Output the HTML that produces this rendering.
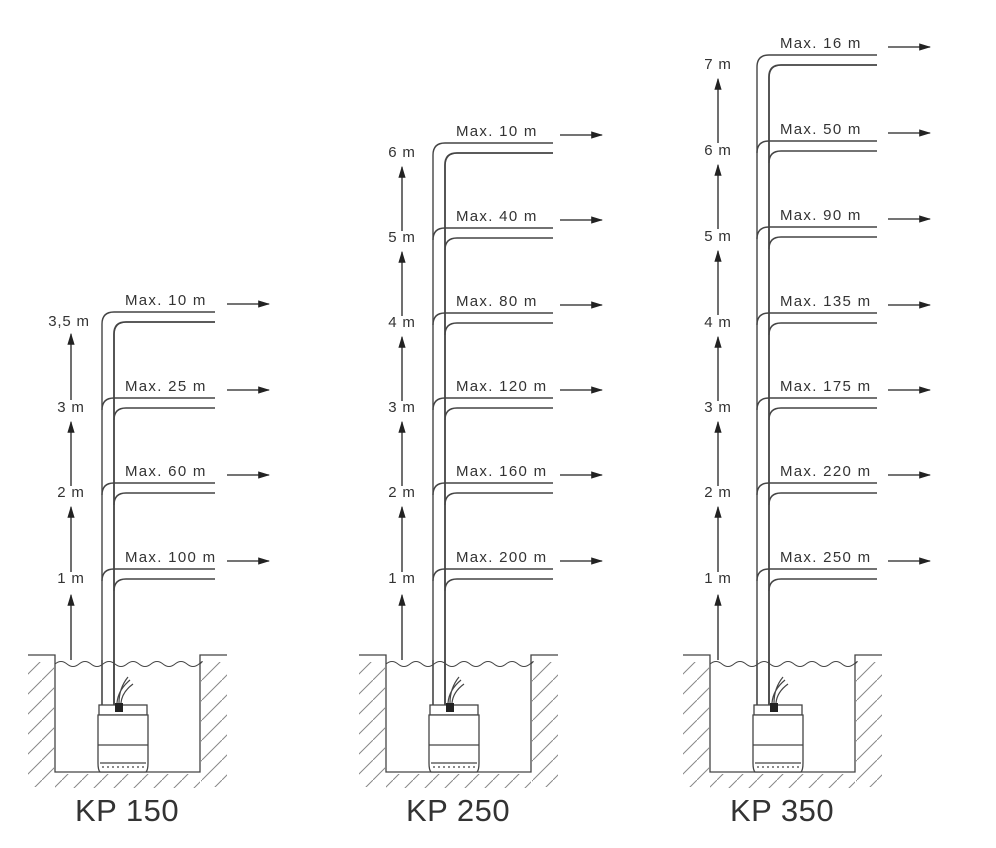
<!DOCTYPE html>
<html><head><meta charset="utf-8"><style>
html,body{margin:0;padding:0;background:#fff;}
svg{display:block}
text{font-family:"Liberation Sans",sans-serif;fill:#333;}
</style></head><body>
<svg width="996" height="848" viewBox="0 0 996 848" xmlns="http://www.w3.org/2000/svg">
<defs>
<pattern id="h" patternUnits="userSpaceOnUse" width="20" height="20">
<line x1="0" y1="20" x2="20" y2="0" stroke="#888" stroke-width="1"/>
</pattern>
<marker id="a" viewBox="0 0 10 10" refX="9" refY="5" markerWidth="12" markerHeight="9" orient="auto" markerUnits="userSpaceOnUse" preserveAspectRatio="none">
<path d="M0,1 L10,5 L0,9 Z" fill="#222"/>
</marker>
<g id="pit" fill="none" stroke="#444" stroke-width="1.3">
<rect x="-74" y="662" width="26" height="125" fill="url(#h)" stroke="none"/>
<rect x="-47" y="774" width="145" height="14" fill="url(#h)" stroke="none"/>
<rect x="99" y="662" width="26" height="125" fill="url(#h)" stroke="none"/>
<path d="M-74,655 H-47 V772 H98 V655 H125"/>
<path d="M-47,664 q6,-5 12,0 t12,0 t12,0 t12,0 t12,0 t12,0 t12,0 t12,0 t12,0 t12,0 t12,0 t12,0 t1,0" stroke-width="1"/>
<rect x="-3" y="705" width="48" height="10" fill="#fff"/>
<path d="M-4,715 H46 V763 Q46,770 44,772 H-2 Q-4,770 -4,763 Z" fill="#fff"/>
<line x1="-4" y1="745" x2="46" y2="745"/>
<line x1="-2" y1="763" x2="44" y2="763"/>
<path d="M0,767 H44" stroke-dasharray="2,3"/>
<rect x="13" y="703" width="8" height="9" fill="#222" stroke="none"/>
<path d="M15,703 Q16,690 28,680 M19,703 Q20,692 31,684 M17,703 Q17,688 26,677" stroke-width="1.2"/>
<path d="M0,705 V660 M12,705 V660" stroke="#444"/>
</g>
</defs>

<!-- KP 150 -->
<g transform="translate(102,0)" stroke="#444" fill="none" stroke-width="1.4">
<use href="#pit"/>
<path d="M0,705 V324 Q0,312 12,312 H113"/>
<path d="M12,705 V334 Q12,322 24,322 H113" stroke-width="1.8"/>
<path d="M0,410 Q0,398 12,398 H113 M12,420 Q12,408 24,408 H113"/>
<path d="M0,495 Q0,483 12,483 H113 M12,505 Q12,493 24,493 H113"/>
<path d="M0,581 Q0,569 12,569 H113 M12,591 Q12,579 24,579 H113"/>
<g stroke="#222" stroke-width="1.3" marker-end="url(#a)">
<line x1="125" y1="304" x2="167" y2="304"/><line x1="125" y1="390" x2="167" y2="390"/>
<line x1="125" y1="475" x2="167" y2="475"/><line x1="125" y1="561" x2="167" y2="561"/>
<line x1="-31" y1="660" x2="-31" y2="595"/><line x1="-31" y1="572" x2="-31" y2="507"/>
<line x1="-31" y1="486" x2="-31" y2="422"/><line x1="-31" y1="400" x2="-31" y2="334"/>
</g>
<g stroke="none" fill="#333" font-size="15" letter-spacing="1.3">
<text x="23" y="305">Max. 10 m</text><text x="23" y="391">Max. 25 m</text>
<text x="23" y="476">Max. 60 m</text><text x="23" y="562">Max. 100 m</text>
<g text-anchor="middle" letter-spacing="0.8"><text x="-33" y="326">3,5 m</text><text x="-31" y="412">3 m</text><text x="-31" y="497">2 m</text><text x="-31" y="583">1 m</text></g>
<text x="25" y="821" font-size="31" letter-spacing="0.5" text-anchor="middle">KP 150</text>
</g>
</g>

<!-- KP 250 -->
<g transform="translate(433,0)" stroke="#444" fill="none" stroke-width="1.4">
<use href="#pit"/>
<path d="M0,705 V155 Q0,143 12,143 H120"/>
<path d="M12,705 V165 Q12,153 24,153 H120" stroke-width="1.8"/>
<path d="M0,240 Q0,228 12,228 H120 M12,250 Q12,238 24,238 H120"/>
<path d="M0,325 Q0,313 12,313 H120 M12,335 Q12,323 24,323 H120"/>
<path d="M0,410 Q0,398 12,398 H120 M12,420 Q12,408 24,408 H120"/>
<path d="M0,495 Q0,483 12,483 H120 M12,505 Q12,493 24,493 H120"/>
<path d="M0,581 Q0,569 12,569 H120 M12,591 Q12,579 24,579 H120"/>
<g stroke="#222" stroke-width="1.3" marker-end="url(#a)">
<line x1="127" y1="135" x2="169" y2="135"/><line x1="127" y1="220" x2="169" y2="220"/>
<line x1="127" y1="305" x2="169" y2="305"/><line x1="127" y1="390" x2="169" y2="390"/>
<line x1="127" y1="475" x2="169" y2="475"/><line x1="127" y1="561" x2="169" y2="561"/>
<line x1="-31" y1="660" x2="-31" y2="595"/><line x1="-31" y1="572" x2="-31" y2="507"/>
<line x1="-31" y1="486" x2="-31" y2="422"/><line x1="-31" y1="401" x2="-31" y2="337"/>
<line x1="-31" y1="316" x2="-31" y2="252"/><line x1="-31" y1="231" x2="-31" y2="167"/>
</g>
<g stroke="none" fill="#333" font-size="15" letter-spacing="1.3">
<text x="23" y="136">Max. 10 m</text><text x="23" y="221">Max. 40 m</text>
<text x="23" y="306">Max. 80 m</text><text x="23" y="391">Max. 120 m</text>
<text x="23" y="476">Max. 160 m</text><text x="23" y="562">Max. 200 m</text>
<g text-anchor="middle" letter-spacing="0.8"><text x="-31" y="157">6 m</text><text x="-31" y="242">5 m</text><text x="-31" y="327">4 m</text><text x="-31" y="412">3 m</text><text x="-31" y="497">2 m</text><text x="-31" y="583">1 m</text></g>
<text x="25" y="821" font-size="31" letter-spacing="0.5" text-anchor="middle">KP 250</text>
</g>
</g>

<!-- KP 350 -->
<g transform="translate(757,0)" stroke="#444" fill="none" stroke-width="1.4">
<use href="#pit"/>
<path d="M0,705 V67 Q0,55 12,55 H120"/>
<path d="M12,705 V77 Q12,65 24,65 H120" stroke-width="1.8"/>
<path d="M0,153 Q0,141 12,141 H120 M12,163 Q12,151 24,151 H120"/>
<path d="M0,239 Q0,227 12,227 H120 M12,249 Q12,237 24,237 H120"/>
<path d="M0,325 Q0,313 12,313 H120 M12,335 Q12,323 24,323 H120"/>
<path d="M0,410 Q0,398 12,398 H120 M12,420 Q12,408 24,408 H120"/>
<path d="M0,495 Q0,483 12,483 H120 M12,505 Q12,493 24,493 H120"/>
<path d="M0,581 Q0,569 12,569 H120 M12,591 Q12,579 24,579 H120"/>
<g stroke="#222" stroke-width="1.3" marker-end="url(#a)">
<line x1="131" y1="47" x2="173" y2="47"/><line x1="131" y1="133" x2="173" y2="133"/>
<line x1="131" y1="219" x2="173" y2="219"/><line x1="131" y1="305" x2="173" y2="305"/>
<line x1="131" y1="390" x2="173" y2="390"/><line x1="131" y1="475" x2="173" y2="475"/>
<line x1="131" y1="561" x2="173" y2="561"/>
<line x1="-39" y1="660" x2="-39" y2="595"/><line x1="-39" y1="572" x2="-39" y2="507"/>
<line x1="-39" y1="486" x2="-39" y2="422"/><line x1="-39" y1="401" x2="-39" y2="337"/>
<line x1="-39" y1="315" x2="-39" y2="251"/><line x1="-39" y1="229" x2="-39" y2="165"/>
<line x1="-39" y1="143" x2="-39" y2="79"/>
</g>
<g stroke="none" fill="#333" font-size="15" letter-spacing="1.3">
<text x="23" y="48">Max. 16 m</text><text x="23" y="134">Max. 50 m</text>
<text x="23" y="220">Max. 90 m</text><text x="23" y="306">Max. 135 m</text>
<text x="23" y="391">Max. 175 m</text><text x="23" y="476">Max. 220 m</text>
<text x="23" y="562">Max. 250 m</text>
<g text-anchor="middle" letter-spacing="0.8"><text x="-39" y="69">7 m</text><text x="-39" y="155">6 m</text><text x="-39" y="241">5 m</text><text x="-39" y="327">4 m</text><text x="-39" y="412">3 m</text><text x="-39" y="497">2 m</text><text x="-39" y="583">1 m</text></g>
<text x="25" y="821" font-size="31" letter-spacing="0.5" text-anchor="middle">KP 350</text>
</g>
</g>
</svg>
</body></html>
